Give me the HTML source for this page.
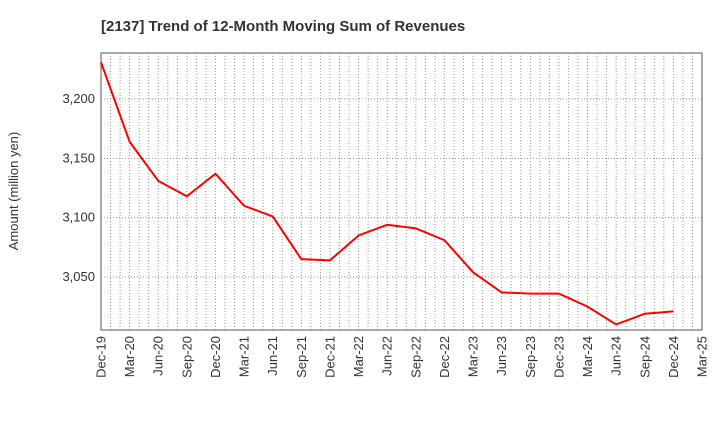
<!DOCTYPE html>
<html><head><meta charset="utf-8"><style>
body{margin:0;background:#fff;font-family:"Liberation Sans",sans-serif}
svg text{font-family:"Liberation Sans",sans-serif}
</style></head><body>
<svg id="c" width="720" height="440" xmlns="http://www.w3.org/2000/svg">
<text x="101" y="31" text-anchor="start" font-size="15" font-weight="bold" fill="#333">[2137]  Trend of 12-Month Moving Sum of Revenues</text>
<text transform="translate(18,191) rotate(-90)" text-anchor="middle" font-size="13" fill="#333">Amount (million yen)</text>
<g id="grid"></g><g id="ax"></g><g id="ser"></g>
</svg>
<script>
const xLabels=["Dec-19","Mar-20","Jun-20","Sep-20","Dec-20","Mar-21","Jun-21","Sep-21","Dec-21","Mar-22","Jun-22","Sep-22","Dec-22","Mar-23","Jun-23","Sep-23","Dec-23","Mar-24","Jun-24","Sep-24","Dec-24","Mar-25"];
const values=[3231,3164,3131,3118,3137,3110,3101,3065,3064,3085,3094,3091,3081,3054,3037,3036,3036,3025,3010,3019,3021];
const yTicks=[3050,3100,3150,3200];
const L=101,R=702,T=53,B=330,yMin=3005.3,yMax=3238.8;
const months=(xLabels.length-1)*3;
const xm=m=>L+(R-L)*m/months;
const xq=i=>xm(i*3);
const y=v=>B-(B-T)*(v-yMin)/(yMax-yMin);
const NS="http://www.w3.org/2000/svg";
function mk(t,a,p){const e=document.createElementNS(NS,t);for(const k in a)e.setAttribute(k,a[k]);p.appendChild(e);return e;}
const g=document.getElementById('grid'),ax=document.getElementById('ax'),s=document.getElementById('ser');
for(let m=1;m<months;m++){const l=mk('line',{x1:xm(m),x2:xm(m),y1:T,y2:B,stroke:'#999','stroke-width':1,'stroke-dasharray':'1,2'},g);

}
yTicks.forEach(v=>{const l=mk('line',{x1:L,x2:R,y1:y(v),y2:y(v),stroke:'#999','stroke-width':1,'stroke-dasharray':'1,2'},g);


const t=mk('text',{x:L-6,y:y(v)+4,'text-anchor':'end','font-size':13,fill:'#333'},ax);t.textContent=v.toLocaleString('en-US');

});
const fr=mk('rect',{x:L,y:T,width:R-L,height:B-T,fill:'none',stroke:'#555','stroke-width':1},ax);


xLabels.forEach((lb,i)=>{const x=xq(i);const t=mk('text',{transform:`translate(${x+4.5},${B+6}) rotate(-90)`,'text-anchor':'end','font-size':13,fill:'#333'},ax);t.textContent=lb;

});
const p=mk('polyline',{points:values.map((v,i)=>xq(i)+','+y(v)).join(' '),fill:'none',stroke:'#f00','stroke-width':2},s);


</script>
</body></html>
